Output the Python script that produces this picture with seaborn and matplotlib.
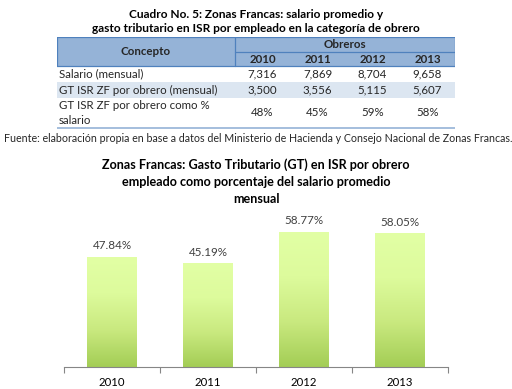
'''
Zonas Francas: tabla de salario / gasto tributario y barras del GT como % del salario
'''
import numpy as np
import pandas as pd
import seaborn as sns
import matplotlib.pyplot as plt
from matplotlib.patches import Rectangle
from matplotlib.colors import LinearSegmentedColormap

years = ['2010', '2011', '2012', '2013']
conceptos = ['Salario (mensual)', 'GT ISR ZF por obrero (mensual)',
             'GT ISR ZF por obrero como %\nsalario']
salario = [7316, 7869, 8704, 9658]
gt_isr = [3500, 3556, 5115, 5607]
gt_pct_tabla = [48, 45, 59, 58]
gt_pct = [47.84, 45.19, 58.77, 58.05]

cuadro_titulo = ['Cuadro No. 5: Zonas Francas: salario promedio y',
                 'gasto tributario en ISR por empleado en la categoría de obrero']
fuente = ('Fuente: elaboración propia en base a datos del Ministerio de Hacienda '
          'y Consejo Nacional de Zonas Francas.')
grafico_titulo = ['Zonas Francas: Gasto Tributario (GT) en ISR por obrero',
                  'empleado como porcentaje del salario promedio',
                  'mensual']

data = pd.DataFrame({'year': years, 'pct': gt_pct})

sns.set_style('white')
plt.rcParams['font.family'] = ['Lato', 'DejaVu Sans']

W, H = 512, 389
fig = plt.figure(figsize=(W / 100, H / 100), dpi=100)


def px_axes(l, t, r, b):
    return fig.add_axes([l / W, 1 - b / H, (r - l) / W, (b - t) / H])


# ---- titulo del cuadro ----
for i, line in enumerate(cuadro_titulo):
    fig.text(0.5, 1 - (14.5 + 14.5 * i) / H, line, ha='center', va='center',
             fontsize=8.6, fontweight='bold', color='black')

# ---- tabla (coordenadas en pixeles de la figura) ----
tl, tr = 57, 455
ctab = px_axes(tl, 37, tr, 129)
ctab.set_xlim(tl, tr)
ctab.set_ylim(129, 37)
ctab.axis('off')

split_x = 235
col_w = (tr - split_x) / len(years)
col_centers = [split_x + col_w * (i + 0.5) for i in range(len(years))]
head_top, head_mid, head_bot = 37, 52, 66
row_edges = [66, 82, 98, 128]

hdr_fill, hdr_edge = '#95B3D7', '#4F81BD'
ctab.add_patch(Rectangle((tl, head_top), tr - tl, head_bot - head_top,
                         facecolor=hdr_fill, edgecolor='none'))
ctab.add_patch(Rectangle((tl, row_edges[1]), tr - tl, row_edges[2] - row_edges[1],
                         facecolor='#DCE6F1', edgecolor='none'))
lw = 0.9
ctab.plot([tl, tr], [head_top, head_top], color=hdr_edge, lw=lw)
ctab.plot([tl, tr], [head_bot, head_bot], color=hdr_edge, lw=lw)
ctab.plot([tl, tl], [head_top, head_bot], color=hdr_edge, lw=lw)
ctab.plot([tr, tr], [head_top, head_bot], color=hdr_edge, lw=lw)
ctab.plot([split_x, split_x], [head_top, head_bot], color=hdr_edge, lw=lw)
ctab.plot([split_x, tr], [head_mid, head_mid], color=hdr_edge, lw=lw)
ctab.plot([tl, tr], [row_edges[-1], row_edges[-1]], color='#95B3D7', lw=1.2)

fs = 8.3
ctab.text((tl + split_x) / 2, (head_top + head_bot) / 2, 'Concepto',
          ha='center', va='center', fontsize=fs, fontweight='bold')
ctab.text((split_x + tr) / 2, (head_top + head_mid) / 2 + 0.5, 'Obreros',
          ha='center', va='center', fontsize=fs, fontweight='bold')
for x, y in zip(col_centers, years):
    ctab.text(x, (head_mid + head_bot) / 2 + 0.5, y, ha='center', va='center',
              fontsize=fs, fontweight='bold')

rows = [[f'{v:,}' for v in salario],
        [f'{v:,}' for v in gt_isr],
        [f'{v}%' for v in gt_pct_tabla]]
for i, (label, vals) in enumerate(zip(conceptos, rows)):
    yc = (row_edges[i] + row_edges[i + 1]) / 2
    ctab.text(tl + 2, yc, label, ha='left', va='center', fontsize=fs,
              linespacing=1.4)
    for x, v in zip(col_centers, vals):
        ctab.text(x, yc, v, ha='center', va='center', fontsize=fs)

fig.text(4 / W, 1 - 139 / H, fuente, ha='left', va='center', fontsize=7.65)

# ---- titulo del grafico ----
for i, line in enumerate(grafico_titulo):
    fig.text(0.5, 1 - (165 + 17 * i) / H, line, ha='center', va='center',
             fontsize=9.1, fontweight='bold', color='black')

# ---- grafico de barras ----
ax = px_axes(64, 206, 448, 367)
sns.barplot(data=data, x='year', y='pct', ax=ax, width=0.52, color='#C8E67E',
            saturation=1)

cmap = LinearSegmentedColormap.from_list('verde', ['#A3CD55', '#C9E97F', '#DDFB9C', '#E2FFA5'])
grad = np.linspace(0, 1, 256).reshape(-1, 1)
for p in ax.patches:
    x0, y0 = p.get_x(), p.get_y()
    w, h = p.get_width(), p.get_height()
    im = ax.imshow(grad, cmap=cmap, aspect='auto', origin='lower',
                   extent=[x0, x0 + w, y0, y0 + h], zorder=2)
    im.set_clip_path(p)
    p.set_facecolor('none')
    p.set_edgecolor('none')
ax.set_xlim(-0.5, len(years) - 0.5)
ax.set_ylim(0, 70)

for i, v in enumerate(gt_pct):
    ax.annotate(f'{v:.2f}%', (i, v), xytext=(0, 11), textcoords='offset pixels',
                ha='center', va='center', fontsize=8.4, color='#404040')

for s in ['left', 'top', 'right']:
    ax.spines[s].set_visible(False)
ax.spines['bottom'].set_color('#868686')
ax.spines['bottom'].set_linewidth(0.8)
ax.set_yticks([])
ax.set_xlabel('')
ax.set_ylabel('')
ax.set_xticks(np.arange(-0.5, len(years)), minor=True)
ax.tick_params(axis='x', which='minor', length=4, color='#868686', width=0.8,
               direction='out', bottom=True)
ax.tick_params(axis='x', which='major', length=0, pad=7, labelsize=8.2,
               labelcolor='black')

fig.savefig('out.png', dpi=100)
